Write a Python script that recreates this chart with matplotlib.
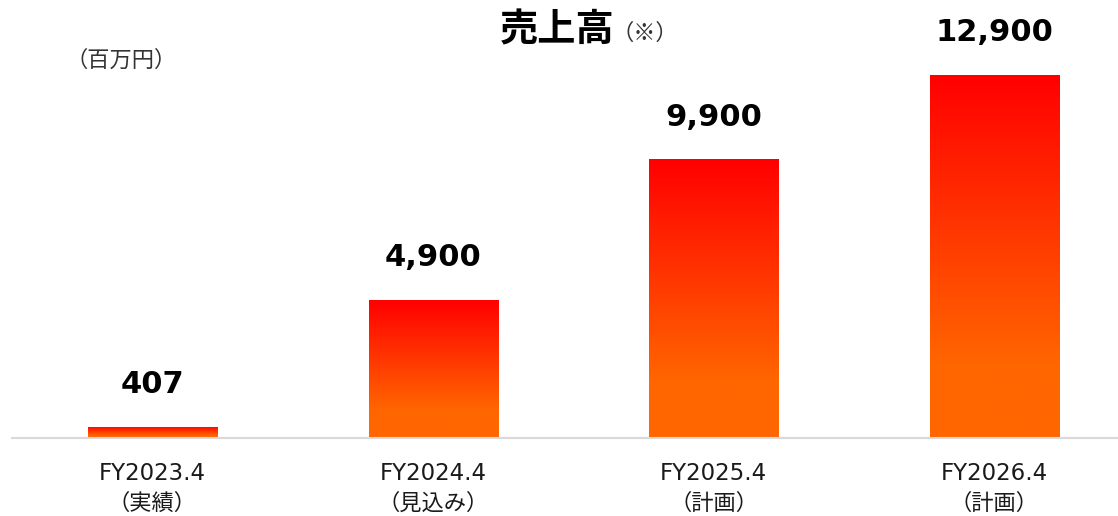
import numpy as np
import matplotlib
matplotlib.use("Agg")
import matplotlib.pyplot as plt
from matplotlib.colors import LinearSegmentedColormap

# データ
periods = ["FY2023.4", "FY2024.4", "FY2025.4", "FY2026.4"]
notes = ["（実績）", "（見込み）", "（計画）", "（計画）"]
sales = [407, 4900, 9900, 12900]

plt.rcParams['font.family'] = ['Noto Sans CJK JP', 'DejaVu Sans']

fig = plt.figure(figsize=(11.18, 5.16), dpi=100)
ax = fig.add_axes([12 / 1118, 1 - 438 / 516, 1 - 12 / 1118, 438 / 516])
ax.set_xlim(-0.5, 3.44)
ax.set_ylim(0, 15565)

# グラデーション (上: 赤 → 下: オレンジ、下の2割はオレンジのまま)
cmap = LinearSegmentedColormap.from_list(
    "rg", [(0.0, "#FF6600"), (0.2, "#FF6600"), (1.0, "#FF0000")])
grad = np.linspace(0, 1, 256).reshape(-1, 1)

bars = ax.bar(range(len(sales)), sales, width=0.46, color="none", edgecolor="none")
for b in bars:
    x0, w, h = b.get_x(), b.get_width(), b.get_height()
    im = ax.imshow(grad, cmap=cmap, aspect="auto", origin="lower",
                   extent=(x0, x0 + w, 0, h), zorder=2)
    im.set_clip_path(b)

for i, v in enumerate(sales):
    ax.text(i, v + 1500, f"{v:,}", ha="center", va="center",
            fontsize=22, fontweight="bold", family="DejaVu Sans", color="black")

# 軸
for s in ["top", "right", "left"]:
    ax.spines[s].set_visible(False)
ax.spines["bottom"].set_color("#D9D9D9")
ax.spines["bottom"].set_linewidth(1.5)
ax.set_yticks([])
ax.set_xticks([])

for i, (p, n) in enumerate(zip(periods, notes)):
    ax.annotate(p, xy=(i, 0), xycoords=("data", "axes fraction"), xytext=(0, -35),
                textcoords="offset pixels", ha="center", va="center",
                fontsize=16.5, family="DejaVu Sans", color="#1a1a1a")
    ax.annotate(n, xy=(i, 0), xycoords=("data", "axes fraction"), xytext=(0, -65),
                textcoords="offset pixels", ha="center", va="center",
                fontsize=16, color="#1a1a1a")

fig.text(557 / 1118, 1 - 30 / 516, "売上高", ha="center", va="center",
         fontsize=27.5, fontweight="bold", color="black")
fig.text(645 / 1118, 1 - 33 / 516, "（※）", ha="center", va="center",
         fontsize=16, color="#333333")
fig.text(121 / 1118, 1 - 60 / 516, "（百万円）", ha="center", va="center",
         fontsize=16, color="#333333")

fig.savefig("out.png", dpi=100)
